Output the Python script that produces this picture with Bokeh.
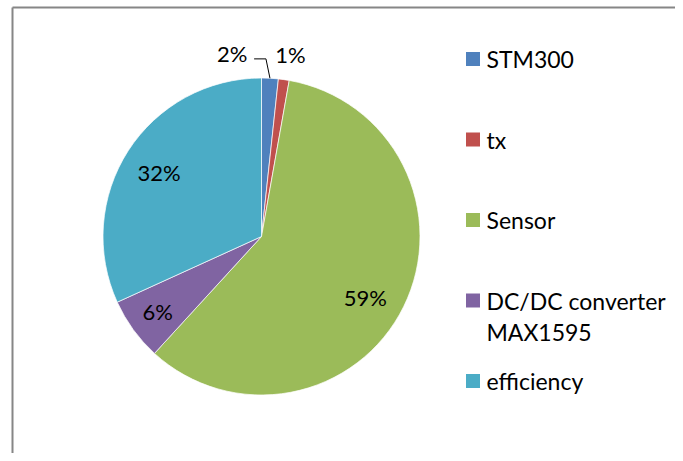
import math
import textwrap
from bokeh.plotting import figure
from bokeh.models import Range1d, ColumnDataSource
from bokeh.core.properties import value
from bokeh.embed import file_html
from bokeh.resources import INLINE

# ---- data ----
categories = ["STM300", "tx", "Sensor", "DC/DC converter MAX1595", "efficiency"]
values = [1.7, 1.1, 59.0, 6.4, 31.8]
colors = ["#4F81BD", "#C0504D", "#9BBB59", "#8064A2", "#4BACC6"]

# ---- layout / style (pixel-like data units: x = px, y = 461 - py) ----
W, H = 675, 453
CX, CY, R = 261.0, 225.0, 158.5
FONT = "Lato"
FS_LABEL = "22px"
FS_LEGEND = "23px"
label_radius = [1.167, 1.165, 0.76, 0.81, 0.764]     # fraction of R
label_angle_offset = [-12.2, 0.9, 4.2, 0.0, -0.6]    # degrees, clockwise
leader = [True, False, False, False, False]
legend_x_sq, legend_x_txt = 472.5, 486.0
legend_top_y, legend_step, line_step = 402.5, 80.5, 31.5

p = figure(width=W, height=H, output_backend="svg", toolbar_location=None,
           x_range=Range1d(0, W), y_range=Range1d(461 - H, 461), min_border=0,
           background_fill_color="white", border_fill_color="white",
           outline_line_color=None)
p.axis.visible = False
p.grid.visible = False

# chart border (top and left visible)
p.segment(x0=[12, 12], y0=[454, 454], x1=[W + 20, 12], y1=[454, -20],
          line_color="#868686", line_width=2)

total = sum(values)
cum = [0.0]
for v in values:
    cum.append(cum[-1] + v / total)
starts = [math.pi / 2 - 2 * math.pi * c for c in cum[:-1]]
ends = [math.pi / 2 - 2 * math.pi * c for c in cum[1:]]

src = ColumnDataSource(dict(x=[CX] * len(values), y=[CY] * len(values),
                            s=starts, e=ends, c=colors))
p.wedge(x="x", y="y", radius=R, start_angle="s", end_angle="e", direction="clock",
        fill_color="c", line_color="white", line_width=0.7, source=src)

# data labels
lx, ly, lt = [], [], []
for i, v in enumerate(values):
    mid = (cum[i] + cum[i + 1]) / 2 * 360.0
    ang = math.radians(mid + label_angle_offset[i])
    r = R * label_radius[i]
    x = CX + r * math.sin(ang)
    y = CY + r * math.cos(ang)
    lx.append(x); ly.append(y); lt.append(f"{round(v / total * 100)}%")
    if leader[i]:
        m = math.radians(mid)
        x0 = CX + R * math.sin(m)
        y0 = CY + R * math.cos(m)
        yl = y - 5
        p.line(x=[x + 22, x0 - 4, x0], y=[yl, yl, y0], line_color="black", line_width=1)
p.text(x=lx, y=ly, text=lt, text_font=value(FONT), text_font_size=FS_LABEL,
       text_color="black", text_align="center", text_baseline="middle")

# legend
sq_y, tx_x, tx_y, tx_t = [], [], [], []
for i, name in enumerate(categories):
    ry = legend_top_y - i * legend_step
    sq_y.append(ry)
    for j, line in enumerate(textwrap.wrap(name, 15)):
        tx_x.append(legend_x_txt)
        tx_y.append(ry - j * line_step)
        tx_t.append(line)
p.rect(x=[legend_x_sq] * len(categories), y=sq_y, width=14, height=14,
       fill_color=colors, line_color=None)
p.text(x=tx_x, y=tx_y, text=tx_t, text_font=value(FONT), text_font_size=FS_LEGEND,
       text_color="black", text_align="left", text_baseline="middle")

open("out.html", "w").write(file_html(p, INLINE))
